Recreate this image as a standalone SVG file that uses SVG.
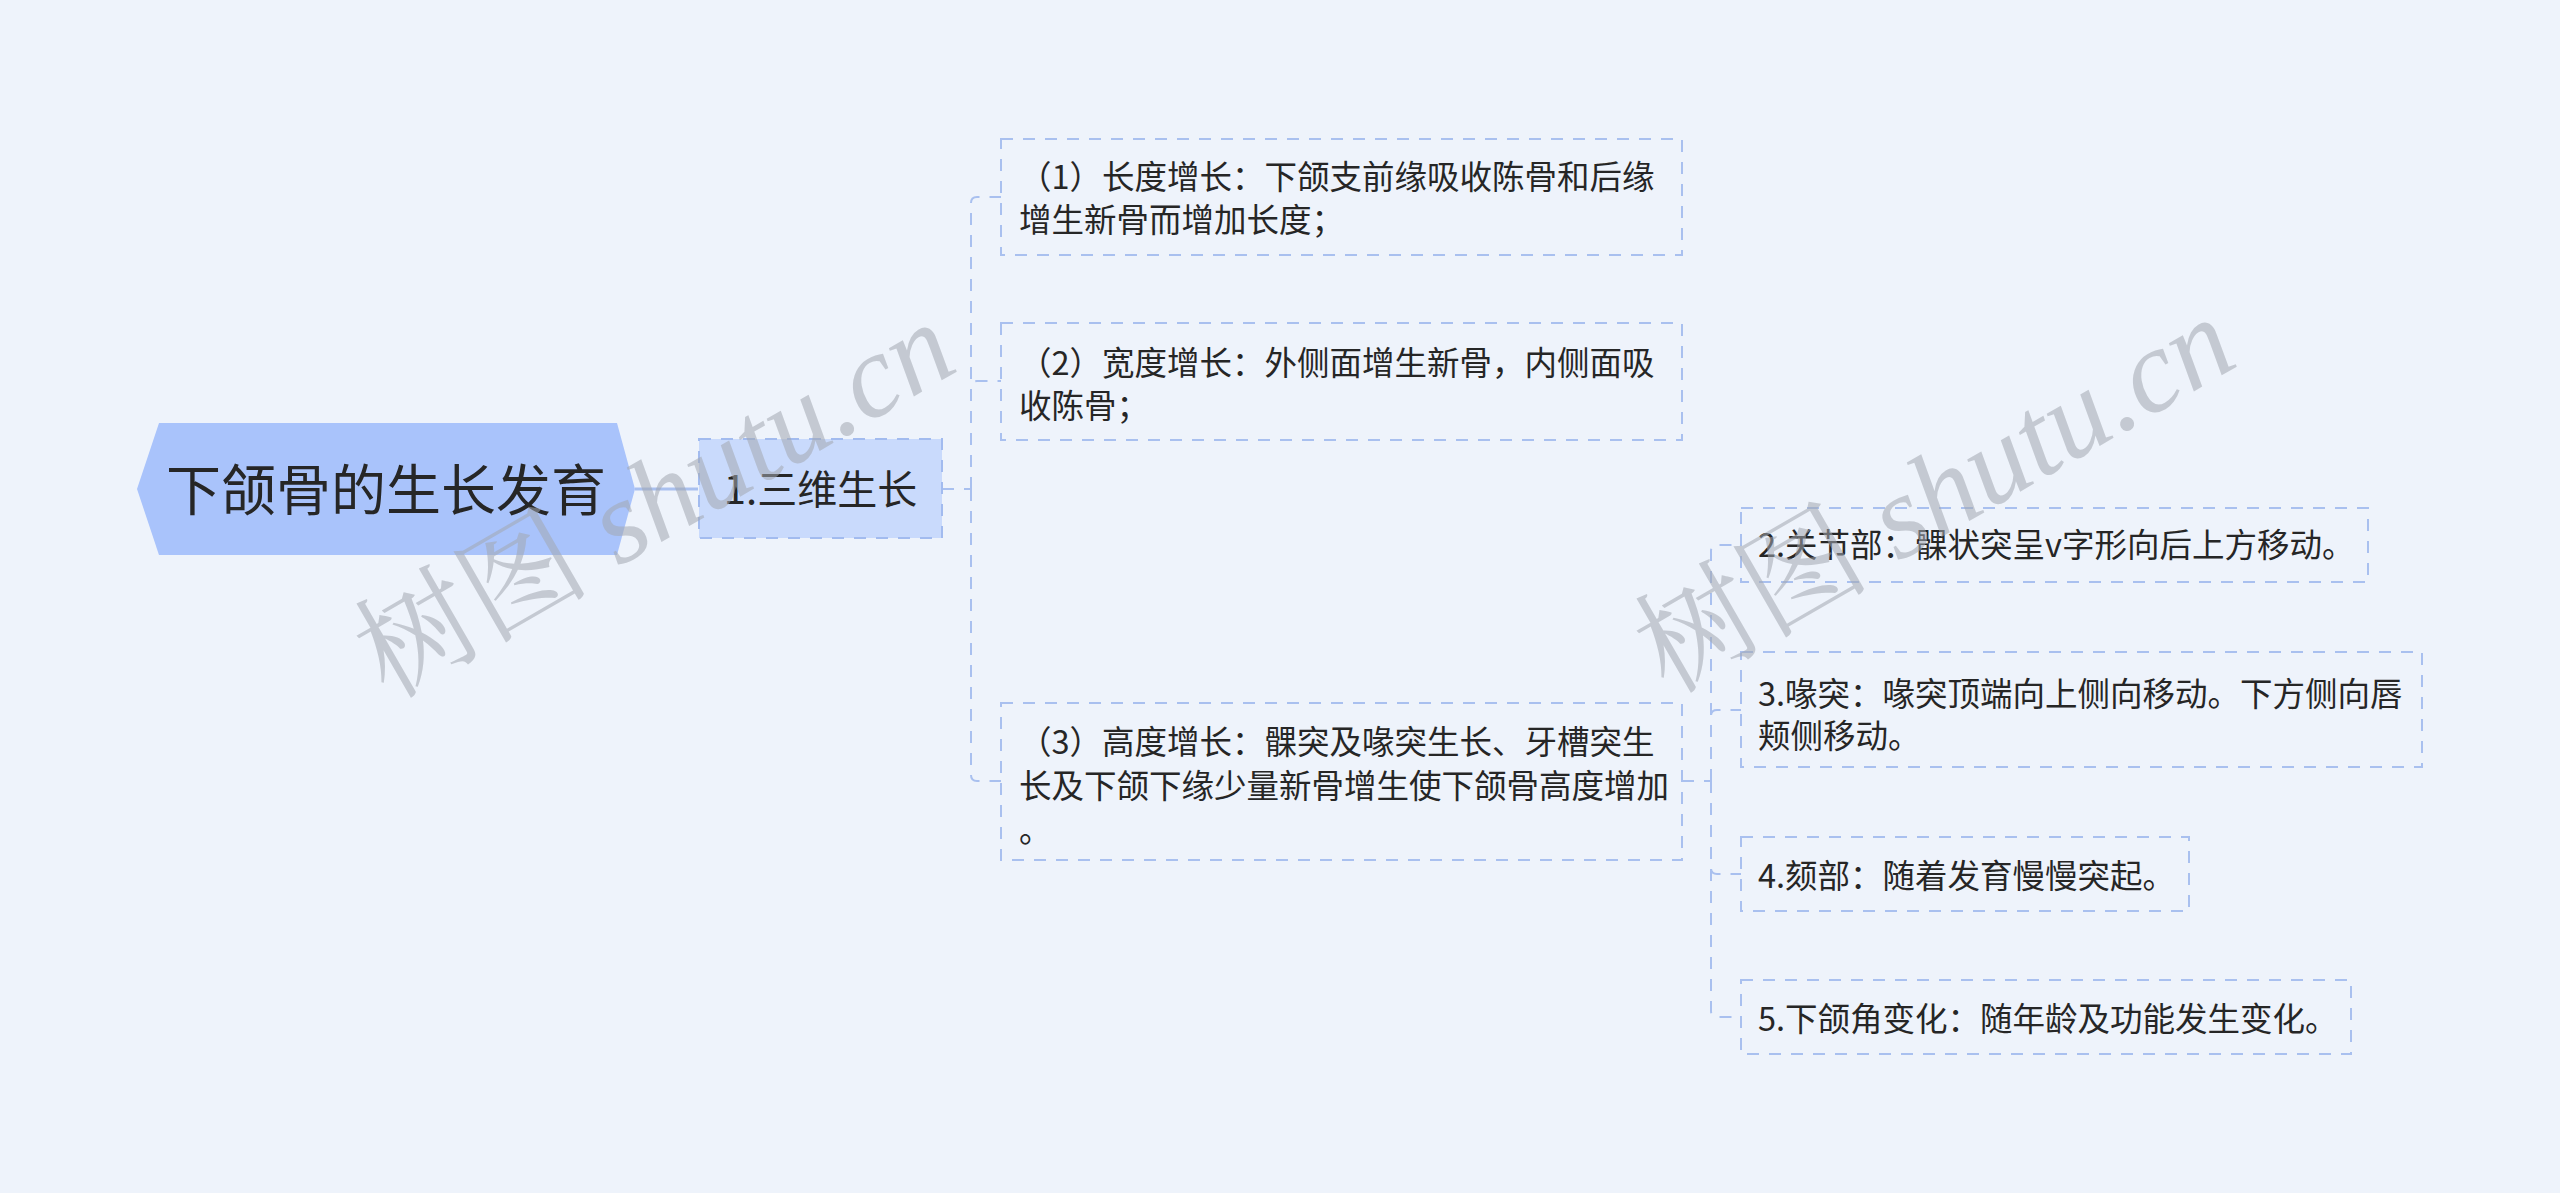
<svg xmlns="http://www.w3.org/2000/svg" width="2560" height="1193" viewBox="0 0 2560 1193">
<style>
.bg{fill:#eef3fb}
.t{font-family:"Noto Sans CJK SC","Noto Sans",sans-serif;fill:#262626}
.leaf{fill:none;stroke:#a9c0ef;stroke-width:2;stroke-dasharray:12 10}
.conn{fill:none;stroke:#a9c0ef;stroke-width:2;stroke-dasharray:12 10}
.wm{fill:#a3a8b1;opacity:0.55}
</style>
<rect class="bg" x="0" y="0" width="2560" height="1193"/>
<g id="connectors">
<path d="M635,489 H698" fill="none" stroke="#a9c0ef" stroke-width="3"/>
<path class="conn" d="M942,489 H971"/>
<path class="conn" d="M971,489 V203 Q971,197 977,197 H1001"/>
<path class="conn" d="M971,489 V387 Q971,381 977,381 H1001"/>
<path class="conn" d="M971,489 V775 Q971,781 977,781 H1001"/>
<path class="conn" d="M1682,781 H1711"/>
<path class="conn" d="M1711,781 V551 Q1711,545 1717,545 H1741"/>
<path class="conn" d="M1711,781 V716 Q1711,710 1717,710 H1741"/>
<path class="conn" d="M1711,781 V868 Q1711,874 1717,874 H1741"/>
<path class="conn" d="M1711,781 V1011 Q1711,1017 1717,1017 H1741"/>
</g>
<g id="root">
<polygon points="137,489 159,423 617,423 635,489 617,555 159,555" fill="#a9c3fb"/>
<text class="t" x="386" y="510" font-size="55" text-anchor="middle">下颌骨的生长发育</text>
</g>
<g id="n1">
<rect x="699" y="439" width="243" height="99" fill="#c9dafc" stroke="#a2bbef" stroke-width="2" stroke-dasharray="12 10"/>
<text class="t" x="820.5" y="504" font-size="40" text-anchor="middle">1.三维生长</text>
</g>
<g id="n1-1">
<rect class="leaf" x="1001" y="139" width="681" height="116"/>
<text class="t" font-size="32.5"><tspan x="1019" y="188.5">（1）长度增长：下颌支前缘吸收陈骨和后缘</tspan><tspan x="1019" y="231.5">增生新骨而增加长度；</tspan></text>
</g>
<g id="n1-2">
<rect class="leaf" x="1001" y="323" width="681" height="117"/>
<text class="t" font-size="32.5"><tspan x="1019" y="375">（2）宽度增长：外侧面增生新骨，内侧面吸</tspan><tspan x="1019" y="418">收陈骨；</tspan></text>
</g>
<g id="n1-3">
<rect class="leaf" x="1001" y="703" width="681" height="157"/>
<text class="t" font-size="32.5"><tspan x="1019" y="754">（3）高度增长：髁突及喙突生长、牙槽突生</tspan><tspan x="1019" y="798">长及下颌下缘少量新骨增生使下颌骨高度增加</tspan><tspan x="1019" y="842">。</tspan></text>
</g>
<g id="n2">
<rect class="leaf" x="1741" y="508" width="627" height="74"/>
<text class="t" x="1758" y="556.5" font-size="32.5">2.关节部：髁状突呈v字形向后上方移动。</text>
</g>
<g id="n3">
<rect class="leaf" x="1741" y="652" width="681" height="115"/>
<text class="t" font-size="32.5"><tspan x="1758" y="705.5">3.喙突：喙突顶端向上侧向移动。下方侧向唇</tspan><tspan x="1758" y="747.5">颊侧移动。</tspan></text>
</g>
<g id="n4">
<rect class="leaf" x="1741" y="837" width="448" height="74"/>
<text class="t" x="1758" y="887.5" font-size="32.5">4.颏部：随着发育慢慢突起。</text>
</g>
<g id="n5">
<rect class="leaf" x="1741" y="980" width="610" height="74"/>
<text class="t" x="1758" y="1030.5" font-size="32.5">5.下颌角变化：随年龄及功能发生变化。</text>
</g>
<g id="watermarks">
<text class="wm" transform="translate(388,700) rotate(-30)" font-size="118"><tspan font-family="'Noto Serif CJK SC','Noto Sans CJK SC',serif">树图</tspan><tspan font-family="'Liberation Serif',serif" font-style="italic"> shutu.cn</tspan></text>
<text class="wm" transform="translate(1668,695) rotate(-30)" font-size="118"><tspan font-family="'Noto Serif CJK SC','Noto Sans CJK SC',serif">树图</tspan><tspan font-family="'Liberation Serif',serif" font-style="italic"> shutu.cn</tspan></text>
</g>
</svg>
